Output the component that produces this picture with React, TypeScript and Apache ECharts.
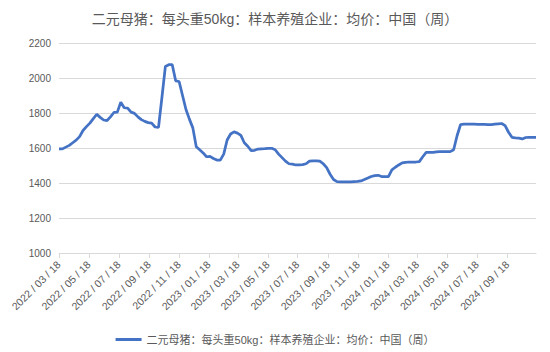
import React, { useEffect, useRef } from "react";
import * as echarts from "echarts";

const TITLE = "二元母猪：每头重50kg：样本养殖企业：均价：中国（周）";
const SERIES_NAME = "二元母猪：每头重50kg：样本养殖企业：均价：中国（周）";
const START_DATE = "2022-03-18";
const END_DATE = "2024-11-15";
const Y_TICKS = [1000, 1200, 1400, 1600, 1800, 2000, 2200];

// weekly prices (yuan/head), one value per week starting at START_DATE
const weeklyPrice = [
  1595, 1595, 1605, 1615, 1630, 1645, 1665, 1700, 1722, 1742,
  1768, 1793, 1775, 1760, 1757, 1778, 1803, 1805, 1862, 1830,
  1828, 1805, 1798, 1778, 1762, 1752, 1745, 1742, 1720, 1718,
  1890, 2066, 2076, 2076, 1984, 1980, 1900, 1820, 1765, 1715,
  1607, 1590, 1572, 1550, 1552, 1540, 1531, 1531, 1565, 1646,
  1680, 1692, 1685, 1672, 1630, 1610, 1585, 1587, 1594, 1595,
  1596, 1598, 1598, 1590, 1565, 1545, 1525, 1510, 1508, 1503,
  1503, 1505, 1510, 1525, 1527, 1527, 1525, 1510, 1488, 1450,
  1420, 1408, 1407, 1407, 1407, 1407, 1408, 1409, 1412, 1420,
  1428, 1437, 1442, 1444, 1437, 1436, 1437, 1475, 1490, 1503,
  1515, 1518, 1520, 1520, 1520, 1522, 1550, 1575, 1575, 1575,
  1578, 1579, 1579, 1579, 1579, 1590, 1670, 1733, 1736, 1736,
  1736, 1736, 1735, 1735, 1735, 1734, 1734, 1736, 1738, 1740,
  1728, 1690, 1661, 1658, 1656, 1652, 1660, 1661, 1661, 1661,
];

function pad(n: number) {
  return n < 10 ? "0" + n : "" + n;
}

function buildDays(): string[] {
  const out: string[] = [];
  const d = new Date(START_DATE + "T00:00:00Z");
  const end = new Date(END_DATE + "T00:00:00Z");
  while (d.getTime() <= end.getTime()) {
    out.push(d.getUTCFullYear() + "/" + pad(d.getUTCMonth() + 1) + "/" + pad(d.getUTCDate()));
    d.setUTCDate(d.getUTCDate() + 1);
  }
  return out;
}

const isLabelDay = (_i: number, v: string) => {
  const parts = v.split("/");
  return parts[2] === "18" && parseInt(parts[1], 10) % 2 === 1;
};

export default function App() {
  const ref = useRef<HTMLDivElement>(null);
  useEffect(() => {
    if (!ref.current) return;
    const chart = echarts.init(ref.current, undefined, { renderer: "svg" });
    const days = buildDays();
    const data: (number | null)[] = days.map(() => null);
    weeklyPrice.forEach((v, w) => {
      const idx = w * 7;
      if (idx < data.length) data[idx] = v;
    });
    const font = '"Liberation Sans", "Noto Sans CJK SC", sans-serif';
    chart.setOption({
      animation: false,
      textStyle: { fontFamily: font },
      title: {
        text: TITLE,
        left: "center",
        top: 7,
        textStyle: { fontSize: 14, fontWeight: "normal", color: "#595959", fontFamily: font },
      },
      legend: {
        data: [SERIES_NAME],
        left: "center",
        top: 329,
        icon: "rect",
        itemWidth: 26,
        itemHeight: 3,
        itemGap: 10,
        textStyle: { fontSize: 11, color: "#595959", fontFamily: font },
      },
      grid: { left: 59, right: 14, top: 43, bottom: 99, containLabel: false },
      xAxis: {
        type: "category",
        data: days,
        boundaryGap: false,
        axisLine: { lineStyle: { color: "#d9d9d9", width: 1 } },
        axisTick: { interval: isLabelDay, length: 5, lineStyle: { color: "#d9d9d9" } },
        axisLabel: {
          interval: isLabelDay,
          rotate: 45,
          fontSize: 10.5,
          color: "#595959",
          margin: 10,
          fontFamily: font,
          formatter: (v: string) => v.split("/").join(" / "),
        },
        splitLine: { show: false },
      },
      yAxis: {
        type: "value",
        min: Y_TICKS[0],
        max: Y_TICKS[Y_TICKS.length - 1],
        interval: 200,
        axisLine: { show: false },
        axisTick: { show: false },
        axisLabel: {
          fontSize: 10,
          color: "#595959",
          margin: 8,
          fontFamily: font,
          formatter: (v: number) => String(v),
        },
        splitLine: { lineStyle: { color: "#d9d9d9", width: 1 } },
      },
      series: [
        {
          name: SERIES_NAME,
          type: "line",
          data,
          connectNulls: true,
          showSymbol: false,
          symbol: "none",
          lineStyle: { color: "#4472C4", width: 2.75 },
          itemStyle: { color: "#4472C4" },
        },
      ],
    });
    return () => chart.dispose();
  }, []);
  return (
    <div
      ref={ref}
      style={{ position: "fixed", left: 0, top: 0, width: 550, height: 352, background: "#fff" }}
    />
  );
}
